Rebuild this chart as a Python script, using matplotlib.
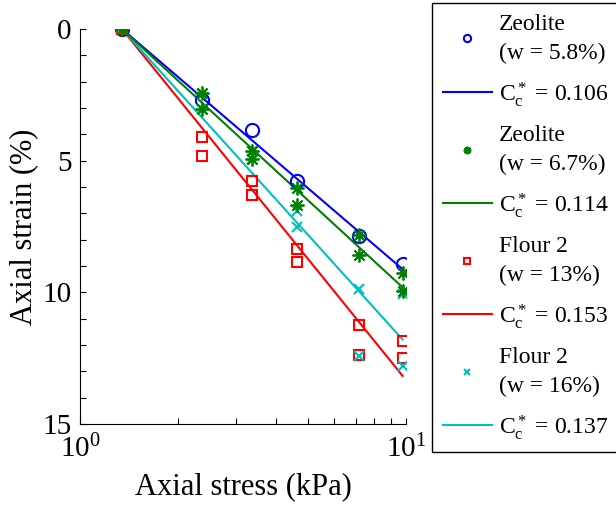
import numpy as np
import matplotlib
matplotlib.use('Agg')
import matplotlib.pyplot as plt
from matplotlib.ticker import LogLocator, MultipleLocator, NullFormatter

plt.rcParams['font.family'] = ['Liberation Serif', 'DejaVu Serif']
plt.rcParams['mathtext.fontset'] = 'custom'
plt.rcParams['mathtext.rm'] = 'Liberation Serif'
plt.rcParams['mathtext.it'] = 'Liberation Serif'
plt.rcParams['mathtext.bf'] = 'Liberation Serif:bold'

# stress levels (kPa), two tests per level after the first
zeo58_x = [1.345, 2.37, 3.37, 4.63, 7.2, 9.76]
zeo58_y = [0, 2.7, 3.84, 5.77, 7.86, 8.94]

pair_x = [1.345, 2.37, 2.37, 3.37, 3.37, 4.63, 4.63, 7.2, 7.2, 9.76, 9.76]
zeo67_y = [0, 2.42, 3.05, 4.62, 4.95, 6.05, 6.68, 7.82, 8.58, 9.25, 9.94]
flour13_y = [0, 4.09, 4.81, 5.77, 6.3, 8.36, 8.84, 11.24, 12.38, 11.85, 12.48]
flour16_y = [0, 2.45, 3.05, 4.62, 4.95, 6.9, 7.53, 9.89, 12.4, 10.06, 12.79]

# fitted lines: start / end stress and strain
fit_x = [1.345, 9.76]
fit_zeo58 = [0, 9.12]
fit_zeo67 = [0, 9.81]
fit_flour13 = [0, 13.17]
fit_flour16 = [0, 11.79]

cc_labels = ['0.106', '0.114', '0.153', '0.137']

blue = (0, 0, 1)
green = (0, 0.5, 0)
red = (1, 0, 0)
cyan = (0, 0.75, 0.75)

fig = plt.figure(figsize=(6.16, 5.11), dpi=100)
ax = fig.add_axes([80 / 616, 1 - 424 / 511, 326 / 616, 395 / 511])

asterisk = (8, 2, 0)

h1, = ax.plot(zeo58_x, zeo58_y, 'o', ls='none', mfc='none', mec=blue,
              mew=1.5, ms=9.5, zorder=3)
l1, = ax.plot(fit_x, fit_zeo58, '-', color=blue, lw=1.5, zorder=2)
h3, = ax.plot(pair_x, flour13_y, 's', ls='none', mfc='none', mec=red,
              mew=1.5, ms=7.5, zorder=3)
l3, = ax.plot(fit_x, fit_flour13, '-', color=red, lw=1.5, zorder=2)
h4, = ax.plot(pair_x, flour16_y, 'x', ls='none', color=cyan,
              mew=1.5, ms=7, zorder=3)
l4, = ax.plot(fit_x, fit_flour16, '-', color=cyan, lw=1.5, zorder=2)
h2, = ax.plot(pair_x, zeo67_y, marker=asterisk, ls='none', color=green,
              mew=1.3, ms=10, zorder=4)
l2, = ax.plot(fit_x, fit_zeo67, '-', color=green, lw=1.5, zorder=2)

ax.set_xscale('log')
ax.set_xlim(1, 10)
ax.set_ylim(15, 0)

ax.xaxis.set_major_locator(LogLocator(base=10, numticks=3))
ax.xaxis.set_minor_locator(LogLocator(base=10, subs=np.arange(2, 10), numticks=10))
ax.xaxis.set_minor_formatter(NullFormatter())
ax.yaxis.set_major_locator(MultipleLocator(5))
ax.yaxis.set_minor_locator(MultipleLocator(1))

ax.spines['top'].set_visible(False)
ax.spines['right'].set_visible(False)
ax.tick_params(which='both', direction='in', width=0.8, labelsize=21)
ax.tick_params(which='major', length=4)
ax.tick_params(which='minor', length=4)
ax.tick_params(axis='y', pad=6)
ax.tick_params(axis='x', pad=8)

ax.set_xlabel('Axial stress (kPa)', fontsize=22, labelpad=6)
ax.set_ylabel('Axial strain (%)', fontsize=22, labelpad=3)

handles = [h1, l1, h2, l2, h3, l3, h4, l4]
labels = ['Zeolite\n(w = 5.8%)', r'C$_\mathrm{c}^*$ = ' + cc_labels[0],
          'Zeolite\n(w = 6.7%)', r'C$_\mathrm{c}^*$ = ' + cc_labels[1],
          'Flour 2\n(w = 13%)', r'C$_\mathrm{c}^*$ = ' + cc_labels[2],
          'Flour 2\n(w = 16%)', r'C$_\mathrm{c}^*$ = ' + cc_labels[3]]
leg = fig.legend(handles, labels, loc='upper left',
                 bbox_to_anchor=(432 / 616, 1 - 3 / 511),
                 borderaxespad=0,
                 fontsize=17, markerscale=0.55, handlelength=2.1,
                 handletextpad=0.3, borderpad=0.45, labelspacing=0.68,
                 fancybox=False, edgecolor='black', framealpha=1)
leg.get_frame().set_linewidth(1.0)
for t in leg.get_texts():
    t.set_linespacing(1.5)

fig.savefig('out.png', dpi=100)
